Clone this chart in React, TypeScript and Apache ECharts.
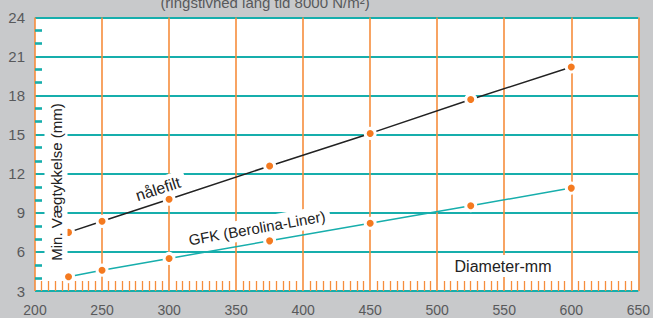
import React, { useEffect, useRef } from "react";
import * as echarts from "echarts";

const diameters = [225, 250, 300, 375, 450, 525, 600];
const naalefilt = [7.5, 8.35, 10.05, 12.6, 15.1, 17.7, 20.2];
const gfk = [4.1, 4.6, 5.5, 6.85, 8.2, 9.55, 10.9];
const xTicks = [200, 250, 300, 350, 400, 450, 500, 550, 600, 650];
const yTicks = [3, 6, 9, 12, 15, 18, 21, 24];

const TEAL = "#17aeac";
const ORANGE = "#f68d3c";
const DOT = "#f47a20";
const GREY_TXT = "#58595b";
const FONT = "'Liberation Sans', Arial, sans-serif";

export default function App() {
  const ref = useRef<HTMLDivElement>(null);
  useEffect(() => {
    document.body.style.margin = "0";
    const chart = echarts.init(ref.current!, null, { renderer: "svg" });
    const pair = (ys: number[]) => diameters.map((d, i) => [d, ys[i]]);
    chart.setOption({
      animation: false,
      backgroundColor: "#c8c9cb",
      grid: {
        left: 35,
        right: 13,
        top: 17.5,
        bottom: 27,
        show: true,
        backgroundColor: "#ffffff",
        borderWidth: 0,
      },
      xAxis: {
        type: "value",
        min: xTicks[0],
        max: xTicks[xTicks.length - 1],
        interval: 50,
        axisLine: { show: false },
        axisTick: { show: false, inside: true, length: 10 },
        minorTick: {
          show: true,
          splitNumber: 10,
          length: 10,
          lineStyle: { color: ORANGE, width: 1.3 },
        },
        splitLine: { show: true, lineStyle: { color: ORANGE, width: 1.6 } },
        axisLabel: {
          color: GREY_TXT,
          fontSize: 14,
          fontFamily: FONT,
          margin: 12,
        },
      },
      yAxis: {
        type: "value",
        min: yTicks[0],
        max: yTicks[yTicks.length - 1],
        interval: 3,
        axisLine: { show: false },
        axisTick: { show: false, inside: true, length: 7 },
        minorTick: {
          show: true,
          splitNumber: 3,
          length: 7,
          lineStyle: { color: TEAL, width: 2.6 },
        },
        splitLine: { show: true, lineStyle: { color: TEAL, width: 2 } },
        axisLabel: {
          color: GREY_TXT,
          fontSize: 15,
          fontFamily: FONT,
          margin: 10,
        },
      },
      graphic: [
        {
          type: "text",
          x: 265,
          y: 10,
          z: 10,
          style: {
            text: "(ringstivhed lang tid 8000 N/m²)",
            fill: GREY_TXT,
            font: `15px ${FONT}`,
            align: "center",
            verticalAlign: "bottom",
          },
        },
        {
          type: "text",
          x: 56,
          y: 182,
          rotation: Math.PI / 2,
          z: 10,
          style: {
            text: "Min. Vægtykkelse (mm)",
            fill: "#222",
            font: `15px ${FONT}`,
            align: "center",
            verticalAlign: "middle",
            backgroundColor: "#fff",
            padding: [4, 4, 4, 4],
          },
        },
        {
          type: "text",
          x: 503,
          y: 266,
          z: 10,
          style: {
            text: "Diameter-mm",
            fill: "#222",
            font: `16px ${FONT}`,
            align: "center",
            verticalAlign: "middle",
            backgroundColor: "#fff",
            padding: [3, 3, 3, 3],
          },
        },
        {
          type: "text",
          x: 158,
          y: 189,
          rotation: (18 * Math.PI) / 180,
          z: 1,
          style: {
            text: "nålefilt",
            fill: "#222",
            font: `16px ${FONT}`,
            align: "center",
            verticalAlign: "middle",
            backgroundColor: "#fff",
            padding: [3, 6, 3, 6],
          },
        },
        {
          type: "text",
          x: 257,
          y: 228,
          rotation: (10 * Math.PI) / 180,
          z: 1,
          style: {
            text: "GFK (Berolina-Liner)",
            fill: "#222",
            font: `15px ${FONT}`,
            align: "center",
            verticalAlign: "middle",
            backgroundColor: "#fff",
            padding: [3, 5, 3, 5],
          },
        },
      ],
      series: [
        {
          name: "nålefilt",
          type: "line",
          data: pair(naalefilt),
          z: 5,
          symbol: "circle",
          symbolSize: 10,
          lineStyle: { color: "#222", width: 1.5 },
          itemStyle: { color: DOT, borderColor: "#fff", borderWidth: 3 },
        },
        {
          name: "GFK (Berolina-Liner)",
          type: "line",
          data: pair(gfk),
          z: 5,
          symbol: "circle",
          symbolSize: 10,
          lineStyle: { color: TEAL, width: 1.5 },
          itemStyle: { color: DOT, borderColor: "#fff", borderWidth: 3 },
        },
      ],
    });
    return () => chart.dispose();
  }, []);
  return <div ref={ref} style={{ width: 653, height: 318 }} />;
}
